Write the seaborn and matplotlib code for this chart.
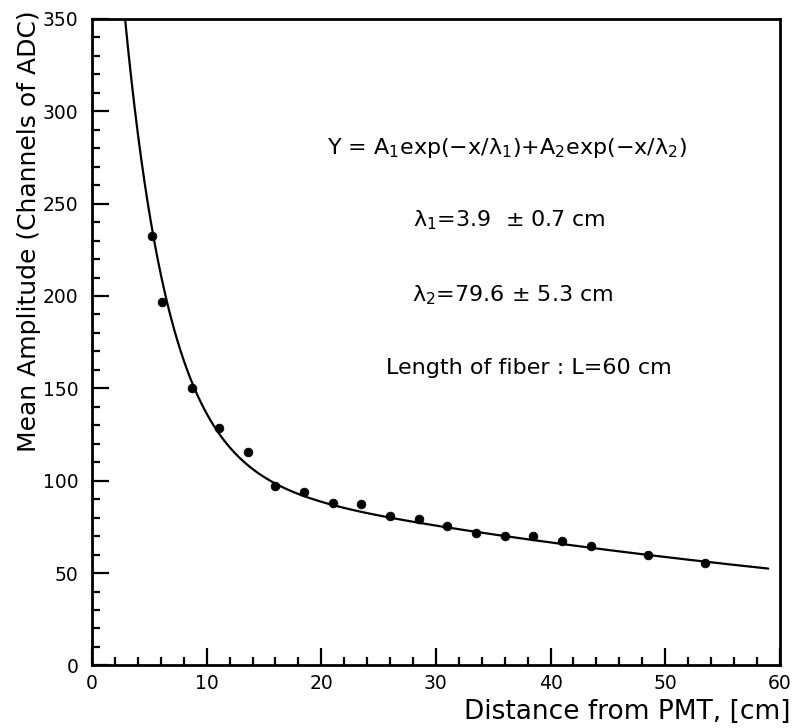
import numpy as np
import pandas as pd
import matplotlib
matplotlib.use("Agg")
import matplotlib.pyplot as plt
from matplotlib.ticker import MultipleLocator
import seaborn as sns

distance_cm = [5.2, 6.1, 8.7, 11.1, 13.6, 16.0, 18.5, 21.0, 23.5, 26.0,
               28.5, 31.0, 33.5, 36.0, 38.5, 41.0, 43.5, 48.5, 53.5]
amplitude = [232.5, 197, 150, 128.5, 115.5, 97, 94, 88, 87.5, 81,
             79, 75.5, 71.5, 70, 70, 67.5, 64.5, 60, 55.5]

# fit parameters (lambda values from the figure, amplitudes estimated)
A1, lam1 = 510.0, 3.9
A2, lam2 = 110.0, 79.6
fit_range = (2.0, 59.0)

sns.set_style("ticks")
plt.rcParams['font.family'] = ['DejaVu Sans']
plt.rcParams['text.color'] = 'black'

fig = plt.figure(figsize=(7.94, 7.28), dpi=100)
ax = fig.add_axes([0.116, 0.086, 0.866, 0.888])

xf = np.linspace(*fit_range, 400)
fit = pd.DataFrame({"x": xf, "y": A1 * np.exp(-xf / lam1) + A2 * np.exp(-xf / lam2)})
sns.lineplot(data=fit, x="x", y="y", ax=ax, color="black", linewidth=1.6)

pts = pd.DataFrame({"x": distance_cm, "y": amplitude})
sns.scatterplot(data=pts, x="x", y="y", ax=ax, color="black", s=40,
                edgecolor="black", zorder=3)

ax.set_xlim(0, 60)
ax.set_ylim(0, 350)
ax.xaxis.set_major_locator(MultipleLocator(10))
ax.xaxis.set_minor_locator(MultipleLocator(2))
ax.yaxis.set_major_locator(MultipleLocator(50))
ax.yaxis.set_minor_locator(MultipleLocator(10))
ax.tick_params(which="both", direction="in", top=False, right=False,
               labelsize=13.5, width=1.6, color="black", labelcolor="black")
ax.tick_params(axis="y", which="major", length=12, pad=10)
ax.tick_params(axis="x", which="major", length=12, pad=6)
ax.tick_params(which="minor", length=6)
for s in ax.spines.values():
    s.set_linewidth(2.0)
    s.set_color("black")
    s.set_visible(True)

ax.set_xlabel("")
ax.set_ylabel("")
fig.text(0.036, 0.683, "Mean Amplitude (Channels of ADC)", rotation=90,
         ha="center", va="center", fontsize=18)
fig.text(0.995, 0.022, "Distance from PMT, [cm]", ha="right", va="center",
         fontsize=19)

fs = 16
ax.text(36.2, 280, "Y = A$_1$exp(\u2212x/\u03bb$_1$)+A$_2$exp(\u2212x/\u03bb$_2$)",
        ha="center", va="center", fontsize=fs)
ax.text(36.4, 241, "\u03bb$_1$=3.9  \u00b1 0.7 cm", ha="center", va="center",
        fontsize=fs)
ax.text(36.7, 200.5, "\u03bb$_2$=79.6 \u00b1 5.3 cm", ha="center", va="center",
        fontsize=fs)
ax.text(38.1, 161, "Length of fiber : L=60 cm", ha="center", va="center",
        fontsize=fs)

fig.savefig("out.png", dpi=100)
